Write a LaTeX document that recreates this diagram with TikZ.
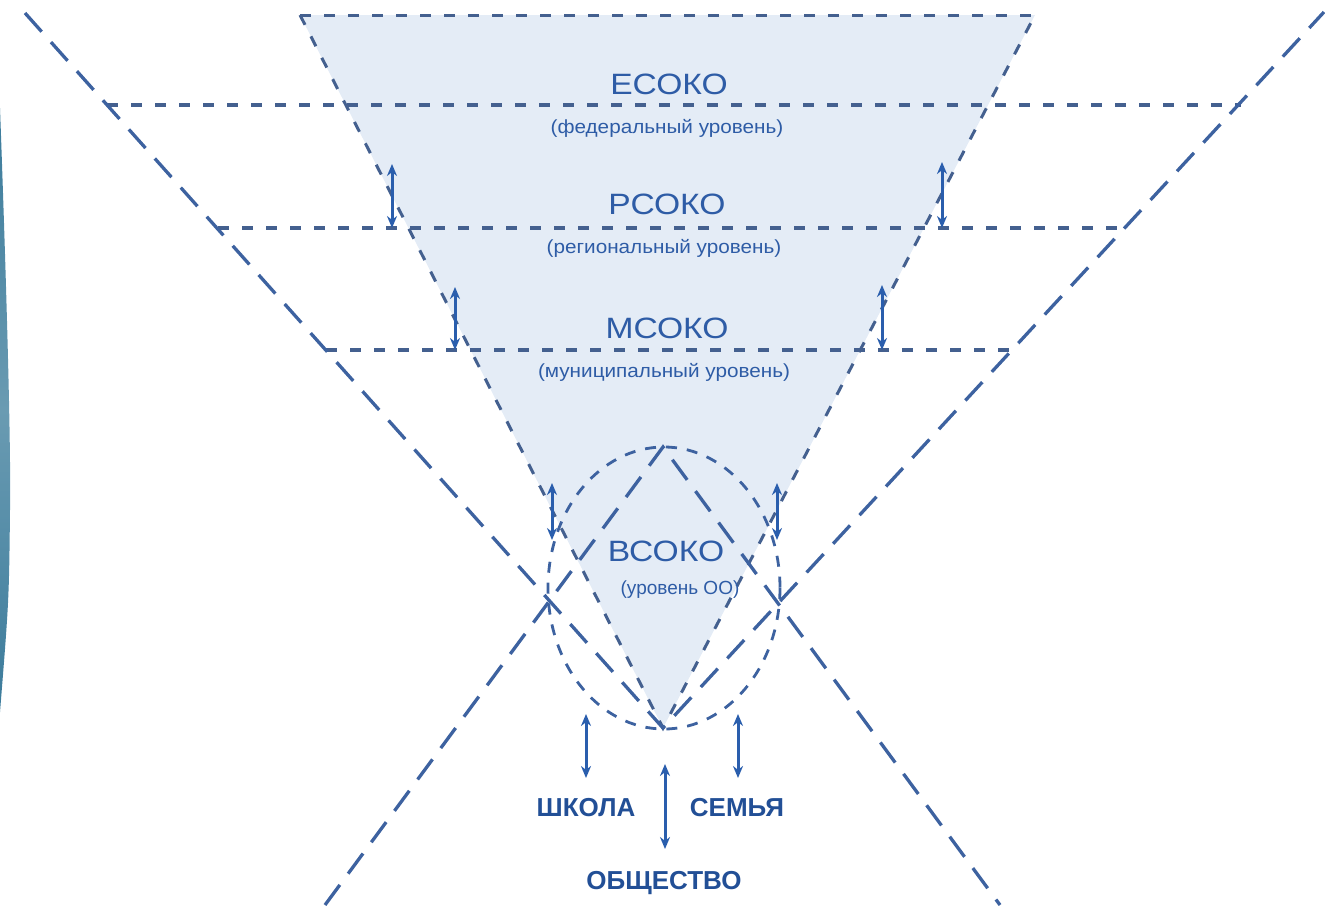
\documentclass[tikz,border=0pt]{standalone}
\usepackage{fontspec}
\usepackage{graphicx}
\setmainfont{Liberation Sans}
\usetikzlibrary{arrows.meta}
\definecolor{linec}{HTML}{44608F}
\definecolor{bigc}{HTML}{3D62A0}
\definecolor{fillc}{HTML}{E4ECF6}
\definecolor{txtc}{HTML}{2E5CA6}
\definecolor{lblc}{HTML}{224F96}
\definecolor{arrc}{HTML}{2A5EAD}
\definecolor{barA}{HTML}{3B7B9B}
\definecolor{barB}{HTML}{6A9BB2}
\newcommand{\wideT}[1]{\scalebox{1.2}[1.05]{#1}}
\newcommand{\wideS}[1]{\scalebox{1.09}[1]{#1}}
\begin{document}
\begin{tikzpicture}[x=1pt,y=-1pt,
 bigline/.style={draw=bigc, line width=3.3pt, dash pattern=on 25pt off 14pt},
 hline/.style={draw=linec, line width=3.2pt, dash pattern=on 11pt off 13pt},
 triside/.style={draw=linec, line width=3pt, dash pattern=on 11pt off 13pt},
 ellc/.style={draw=bigc, line width=2.8pt, dash pattern=on 11pt off 10pt},
 dbl/.style={draw=arrc, line width=3pt, {Stealth[length=12pt,width=10pt]}-{Stealth[length=12pt,width=10pt]}},
 title/.style={text=txtc, font=\fontsize{28}{30}\selectfont, inner sep=0pt},
 sub/.style={text=txtc, font=\fontsize{19}{21}\selectfont, inner sep=0pt},
 lbl/.style={text=lblc, font=\fontsize{26}{28}\selectfont\bfseries, inner sep=0pt}]
\useasboundingbox (0,0) rectangle (1325,913);
% coordinates
\coordinate (TL) at (300,15);
\coordinate (TR) at (1035,15);
\coordinate (AP) at (663,728);
\coordinate (BL) at (25,13);
\coordinate (BR) at (1324,12);
\coordinate (PK) at (663,447);
\coordinate (LL) at (325,905);
\coordinate (LR) at (1000,905);
\coordinate (h1a) at (107,105);  \coordinate (h1b) at (1241,105);
\coordinate (h2a) at (218,228);  \coordinate (h2b) at (1125,228);
\coordinate (h3a) at (326,350);  \coordinate (h3b) at (1018,350);
% triangle fill
\fill[fillc] (TL) -- (TR) -- (AP) -- cycle;
% left bar
\shade[top color=barA, bottom color=barA, middle color=barB] (0,108) .. controls (7,300) and (11,450) .. (10,510) .. controls (9,600) .. (0,712) -- cycle;
% triangle edges
\draw[triside] (TL) -- (TR);
\draw[triside] (TL) -- (AP) -- (TR);
% horizontals
\draw[hline] (h1a) -- (h1b);
\draw[hline] (h2a) -- (h2b);
\draw[hline] (h3a) -- (h3b);
% big V and inner Lambda
\draw[bigline] (BL) -- (AP) -- (BR);
\draw[bigline] (LL) -- (PK) -- (LR);
% ellipse
\draw[ellc] (664,588) ellipse [x radius=116, y radius=141];
% texts
\node[title] (e) at (669,84) {\wideT{ЕСОКО}};
\node[sub] (es) at (667,128) {\wideS{(федеральный уровень)}};
\node[title] (r) at (667,204) {\wideT{РСОКО}};
\node[sub] (rs) at (664,248) {\wideS{(региональный уровень)}};
\node[title] (m) at (667,328) {\wideT{МСОКО}};
\node[sub] (ms) at (664,372) {\wideS{(муниципальный уровень)}};
\node[title] (v) at (666,551) {\wideT{ВСОКО}};
\node[sub] (vs) at (680,590) {(уровень ОО)};
\node[lbl] (sch) at (586,808) {ШКОЛА};
\node[lbl] (fam) at (737,808) {СЕМЬЯ};
\node[lbl] (soc) at (664,883) {ОБЩЕСТВО};
% arrow ends
\coordinate (a1t) at (392,164); \coordinate (a1b) at (392,228);
\coordinate (a2t) at (455,287); \coordinate (a2b) at (455,350);
\coordinate (a3t) at (942,162); \coordinate (a3b) at (942,228);
\coordinate (a4t) at (882,285); \coordinate (a4b) at (882,350);
\coordinate (a5t) at (552,483); \coordinate (a5b) at (552,540);
\coordinate (a6t) at (777,483); \coordinate (a6b) at (777,540);
\coordinate (a7t) at (586,714); \coordinate (a7b) at (586,778);
\coordinate (a8t) at (738,714); \coordinate (a8b) at (738,778);
\coordinate (a9t) at (665,764); \coordinate (a9b) at (665,849);
\foreach \i in {1,...,9} {\draw[dbl] (a\i t) -- (a\i b);}
\end{tikzpicture}
\end{document}
